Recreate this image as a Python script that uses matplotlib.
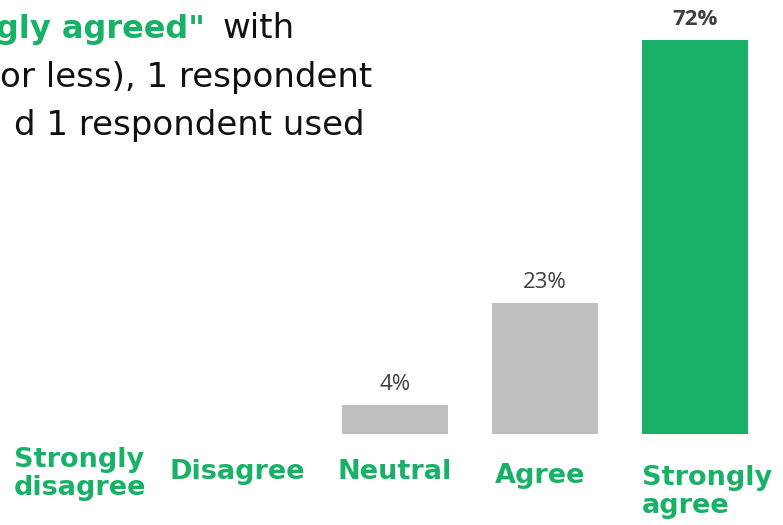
import matplotlib.pyplot as plt

categories = ["Strongly\ndisagree", "Disagree", "Neutral", "Agree", "Strongly\nagree"]
shares = [0, 0, 4, 23, 72]
value_labels = ["", "", "4%", "23%", "72%"]

GREEN = "#19b067"
GREY = "#bfbfbf"
DARK = "#404040"

plt.rcParams["font.family"] = ["DejaVu Sans"]

fig = plt.figure(figsize=(7.83, 5.25), dpi=100)
ax = fig.add_axes([0, 0, 1, 1])

# one category step is 150 px, one percent is ~5.37 px; bars rise from a floor just below 0
px_per_pct = 5.367
floor = -1.41
zero_px = 91 - floor * px_per_pct
ax.set_xlim(-95 / 150, (783 - 95) / 150)
ax.set_ylim(-zero_px / px_per_pct, (525 - zero_px) / px_per_pct)
ax.axis("off")

x = list(range(len(categories)))
colors = [GREY if v < max(shares) else GREEN for v in shares]
heights = [v - floor if v > 0 else 0 for v in shares]
ax.bar(x, heights, bottom=floor, width=106 / 150, color=colors, linewidth=0)

for i, (v, lab) in enumerate(zip(shares, value_labels)):
    if not lab:
        continue
    top = v == max(shares)
    ax.text(i, v + 3.9, lab, ha="center", va="center", fontsize=16,
            family="Open Sans", color=DARK, fontweight="bold" if top else "normal")

# category names under the baseline: (x shift, first baseline, alignment)
label_pos = [(-0.103, -7.55, "center"), (-0.05, -9.8, "center"), (0.0, -9.8, "center"),
             (-0.03, -10.55, "center"), (-0.353, -10.92, "left")]
line_step = 5.22
for i, (name, (dx, y, ha)) in enumerate(zip(categories, label_pos)):
    for k, line in enumerate(name.split("\n")):
        ax.text(i + dx, y - k * line_step, line, ha=ha, va="baseline", fontsize=19.5,
                fontweight="bold", color=GREEN)

# text block at upper left (continues off the left edge)
fig.text(205 / 783, 1 - 38 / 525, "gly agreed\"", ha="right", va="baseline",
         fontsize=23, fontweight="bold", color=GREEN)
fig.text(295 / 783, 1 - 38 / 525, "with", ha="right", va="baseline",
         fontsize=24.5, color="#111111")
fig.text(372 / 783, 1 - 87 / 525, "or less), 1 respondent", ha="right", va="baseline",
         fontsize=24.5, color="#111111")
fig.text(365 / 783, 1 - 135 / 525, "d 1 respondent used", ha="right", va="baseline",
         fontsize=24.5, color="#111111")

fig.savefig("out.png", dpi=100)
